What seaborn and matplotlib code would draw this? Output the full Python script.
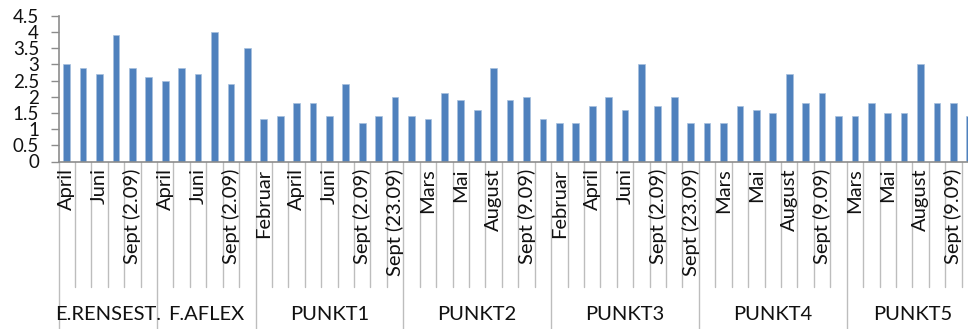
import matplotlib
matplotlib.use("Agg")
import matplotlib.pyplot as plt
import seaborn as sns
import pandas as pd
from matplotlib import transforms

# Sampling sites (outer category level)
groups = ["E.RENSEST.", "F.AFLEX", "PUNKT1", "PUNKT2", "PUNKT3", "PUNKT4", "PUNKT5"]

# Sampling dates per site (inner category level)
erensest_months = ["April", "Mai", "Juni", "August", "Sept (2.09)", "Sept (23.09)"]
faflex_months = ["April", "Mai", "Juni", "August", "Sept (2.09)", "Sept (23.09)"]
punkt1_months = ["Februar", "Mars", "April", "Mai", "Juni", "August",
                 "Sept (2.09)", "Sept (9.09)", "Sept (23.09)"]
punkt2_months = list(punkt1_months)
punkt3_months = list(punkt1_months)
punkt4_months = list(punkt1_months)
punkt5_months = ["Mars", "April", "Mai", "Juni", "August",
                 "Sept (2.09)", "Sept (9.09)", "Sept (23.09)"]

# Measured values
erensest_values = [3.0, 2.9, 2.7, 3.9, 2.9, 2.6]
faflex_values = [2.5, 2.9, 2.7, 4.0, 2.4, 3.5]
punkt1_values = [1.3, 1.4, 1.8, 1.8, 1.4, 2.4, 1.2, 1.4, 2.0]
punkt2_values = [1.4, 1.3, 2.1, 1.9, 1.6, 2.9, 1.9, 2.0, 1.3]
punkt3_values = [1.2, 1.2, 1.7, 2.0, 1.6, 3.0, 1.7, 2.0, 1.2]
punkt4_values = [1.2, 1.2, 1.7, 1.6, 1.5, 2.7, 1.8, 2.1, 1.4]
punkt5_values = [1.4, 1.8, 1.5, 1.5, 3.0, 1.8, 1.8, 1.4]

y_ticks = [0, 0.5, 1, 1.5, 2, 2.5, 3, 3.5, 4, 4.5]
y_tick_labels = ["0", "0.5", "1", "1.5", "2", "2.5", "3", "3.5", "4", "4.5"]

month_lists = [erensest_months, faflex_months, punkt1_months, punkt2_months,
               punkt3_months, punkt4_months, punkt5_months]
value_lists = [erensest_values, faflex_values, punkt1_values, punkt2_values,
               punkt3_values, punkt4_values, punkt5_values]

rows = []
for g, months, vals in zip(groups, month_lists, value_lists):
    for m, v in zip(months, vals):
        rows.append({"site": g, "month": m, "key": f"{g}|{m}", "value": v})
df = pd.DataFrame(rows)
n = len(df)

sns.set_theme(style="white")
plt.rcParams["font.family"] = ["Lato", "DejaVu Sans"]

W, H = 968, 329
fig = plt.figure(figsize=(W / 100, H / 100), dpi=100)

slot = 16.42
left_px = 58.5
axis_px = 161.5
top_px = axis_px - 4.5 * 32.4
ax = fig.add_axes([left_px / W, 1 - axis_px / H,
                   n * slot / W, (axis_px - top_px) / H])

sns.barplot(data=df, x="key", y="value", order=list(df["key"]),
            color="#4F81BD", width=0.41, saturation=1, ax=ax,
            edgecolor="#A7C0DE", linewidth=0.5, errorbar=None)

ax.set_xlim(-0.5, n - 0.5)
ax.set_ylim(0, 4.5)
ax.set_xlabel("")
ax.set_ylabel("")

axis_grey = "#8C8C8C"
line_grey = "#BDBDBD"
txt = "#111111"
fs = 14.5

ax.set_yticks(y_ticks)
ax.set_yticklabels(y_tick_labels, fontsize=13.5, color=txt)
ax.tick_params(axis="y", direction="out", length=6, width=1, color=axis_grey,
               pad=8, left=True)

# Inner level labels: every second category is labelled
labels = [m if i % 2 == 0 else "" for i, m in enumerate(df["month"])]
ax.set_xticks(range(n))
ax.set_xticklabels(labels, rotation=90, fontsize=fs, color=txt, va="top", ha="center")
ax.tick_params(axis="x", length=0, pad=5)

for side in ["top", "right"]:
    ax.spines[side].set_visible(False)
for side in ["left", "bottom"]:
    ax.spines[side].set_color(axis_grey)
    ax.spines[side].set_linewidth(1.2)

# Separators of the two-level category axis
trans = transforms.blended_transform_factory(ax.transData, fig.transFigure)
inner_bottom = 1 - 287 / H
outer_bottom = 0.0
axis_y = 1 - axis_px / H

starts = []
pos = 0
for vals in value_lists:
    starts.append(pos)
    pos += len(vals)
group_edges = set(s - 0.5 for s in starts)

for i in range(n + 1):
    x = i - 0.5
    y0 = outer_bottom if x in group_edges else inner_bottom
    ax.plot([x, x], [axis_y, y0], transform=trans, color=line_grey,
            lw=1, clip_on=False, zorder=0)

for g, s, vals in zip(groups, starts, value_lists):
    xc = s + (len(vals) - 1) / 2
    ax.text(xc, 1 - 315 / H, g, transform=trans, ha="center", va="center",
            fontsize=fs, color=txt)

fig.savefig("out.png", dpi=100)
